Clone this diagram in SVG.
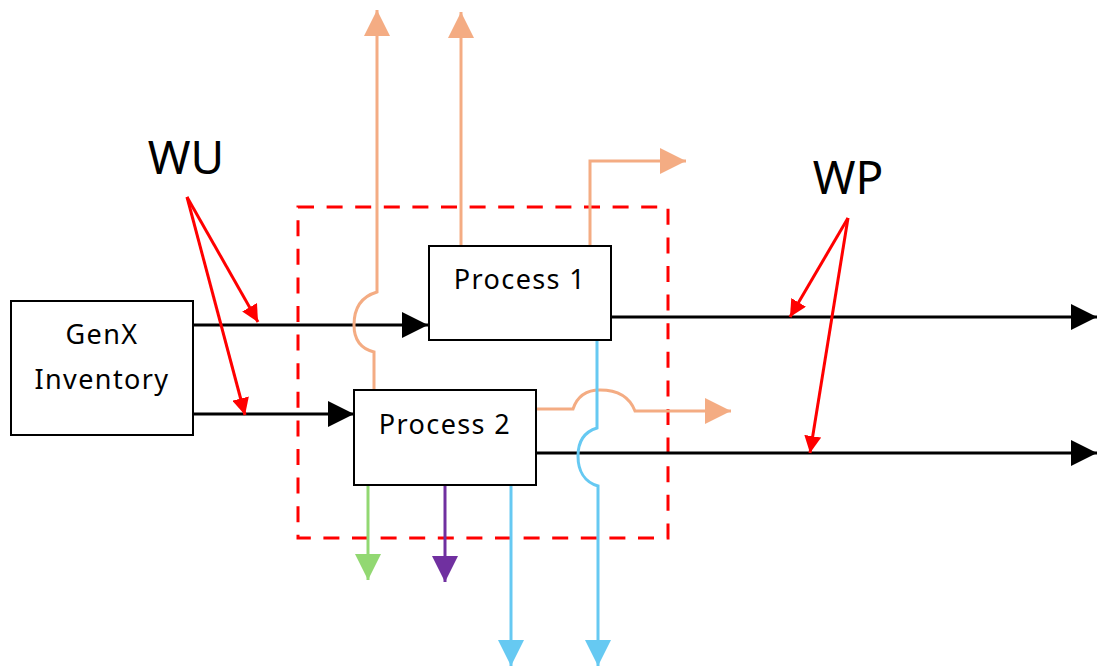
<svg xmlns="http://www.w3.org/2000/svg" width="1097" height="666" viewBox="0 0 1097 666">
<style>
.box{fill:#fff;stroke:#000;stroke-width:2}
.t{font-family:"Noto Sans","Liberation Sans",sans-serif;font-size:27px;letter-spacing:1.4px;fill:#000;text-anchor:middle}
.big{font-family:"Noto Sans","Liberation Sans",sans-serif;font-size:46px;fill:#000;text-anchor:middle}
.blk{stroke:#000;stroke-width:3;fill:none}
.org{stroke:#F4AC83;stroke-width:3;fill:none}
.blu{stroke:#66C9F2;stroke-width:3;fill:none}
.grn{stroke:#92D872;stroke-width:3;fill:none}
.pur{stroke:#7030A0;stroke-width:3;fill:none}
.red{stroke:#FF0000;stroke-width:3;fill:none}
</style>
<defs>
<marker id="mb" viewBox="0 0 10 10" refX="10" refY="5" markerWidth="26" markerHeight="26" markerUnits="userSpaceOnUse" orient="auto"><path d="M0,0L10,5L0,10z" fill="#000"/></marker>
<marker id="mo" viewBox="0 0 10 10" refX="10" refY="5" markerWidth="26" markerHeight="26" markerUnits="userSpaceOnUse" orient="auto"><path d="M0,0L10,5L0,10z" fill="#F4AC83"/></marker>
<marker id="mu" viewBox="0 0 10 10" refX="10" refY="5" markerWidth="26" markerHeight="26" markerUnits="userSpaceOnUse" orient="auto"><path d="M0,0L10,5L0,10z" fill="#66C9F2"/></marker>
<marker id="mg" viewBox="0 0 10 10" refX="10" refY="5" markerWidth="26" markerHeight="26" markerUnits="userSpaceOnUse" orient="auto"><path d="M0,0L10,5L0,10z" fill="#92D872"/></marker>
<marker id="mp" viewBox="0 0 10 10" refX="10" refY="5" markerWidth="26" markerHeight="26" markerUnits="userSpaceOnUse" orient="auto"><path d="M0,0L10,5L0,10z" fill="#7030A0"/></marker>
<marker id="mr" viewBox="0 0 10 10" refX="10" refY="5" markerWidth="17" markerHeight="17" markerUnits="userSpaceOnUse" orient="auto"><path d="M0,0L10,5L0,10z" fill="#FF0000"/></marker>
</defs>
<rect x="0" y="0" width="1097" height="666" fill="#fff"/>
<rect id="boundary" x="298" y="207" width="370" height="331" fill="none" stroke="#FF0000" stroke-width="3" stroke-dasharray="16,12.6"/>
<g id="connectors">
<line class="blk" x1="193" y1="325" x2="428" y2="325" marker-end="url(#mb)"/>
<line class="blk" x1="193" y1="414" x2="354" y2="414" marker-end="url(#mb)"/>
<line class="blk" x1="611" y1="317" x2="1097" y2="317" marker-end="url(#mb)"/>
<line class="blk" x1="536" y1="453" x2="1097" y2="453" marker-end="url(#mb)"/>
<path class="org" d="M374,390 V352 C358,348 354,336 354,325 C354,310 360,297 377,292 V10" marker-end="url(#mo)"/>
<line class="org" x1="461" y1="246" x2="461" y2="12" marker-end="url(#mo)"/>
<path class="org" d="M590,246 V161 H686" marker-end="url(#mo)"/>
<path class="org" d="M536,409 H573 C578,394 590,390 600,390 C620,390 630,398 635,411 H731" marker-end="url(#mo)"/>
<path class="blu" d="M597,340 V428 C584,432 578,442 578,456 C578,470 584,482 598,486 V666" marker-end="url(#mu)"/>
<line class="blu" x1="511" y1="485" x2="511" y2="666" marker-end="url(#mu)"/>
<line class="grn" x1="368" y1="485" x2="368" y2="580" marker-end="url(#mg)"/>
<line class="pur" x1="445" y1="485" x2="445" y2="582" marker-end="url(#mp)"/>
<line class="red" x1="187" y1="197" x2="258" y2="322" marker-end="url(#mr)"/>
<line class="red" x1="187" y1="197" x2="245" y2="415" marker-end="url(#mr)"/>
<line class="red" x1="848" y1="218" x2="790" y2="317" marker-end="url(#mr)"/>
<line class="red" x1="848" y1="218" x2="810" y2="453" marker-end="url(#mr)"/>
</g>
<g id="genx"><rect class="box" x="11" y="301" width="182" height="134"/><text class="t" x="102" y="344">GenX</text><text class="t" x="102" y="389">Inventory</text></g>
<g id="process1"><rect class="box" x="429" y="246" width="182" height="94"/><text class="t" x="520" y="289">Process 1</text></g>
<g id="process2"><rect class="box" x="354" y="390" width="182" height="95"/><text class="t" x="445" y="434">Process 2</text></g>
<g id="wu"><text class="big" x="186" y="174">WU</text></g>
<g id="wp"><text class="big" x="848" y="194">WP</text></g>
</svg>
